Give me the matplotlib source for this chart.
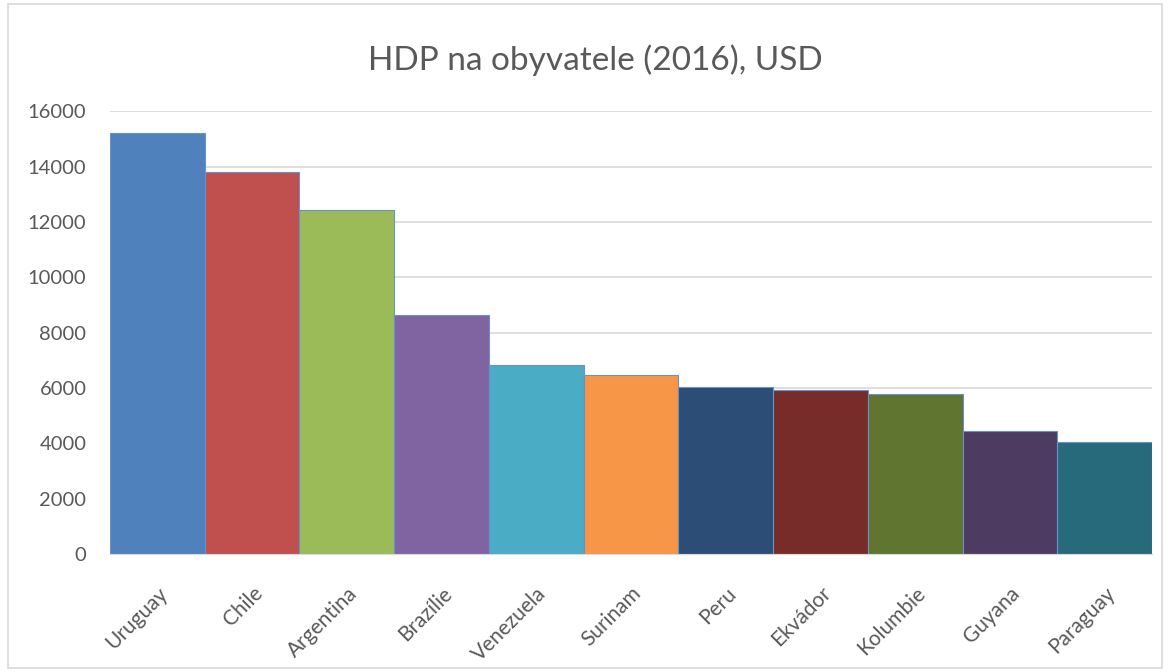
import matplotlib
matplotlib.use("Agg")
import matplotlib.pyplot as plt
import matplotlib.transforms as mtrans
from matplotlib.patches import Rectangle

countries = ["Uruguay", "Chile", "Argentina", "Brazílie", "Venezuela", "Surinam",
             "Peru", "Ekvádor", "Kolumbie", "Guyana", "Paraguay"]
gdp = [15230, 13800, 12440, 8630, 6820, 6460, 6030, 5940, 5780, 4440, 4050]
colors = ["#4F81BD", "#C0504D", "#9BBB59", "#8064A2", "#4BACC6", "#F79646",
          "#2C4D75", "#772C2A", "#5F7530", "#4D3B62", "#276A7C"]
yticks = [0, 2000, 4000, 6000, 8000, 10000, 12000, 14000, 16000]
title = "HDP na obyvatele (2016), USD"

plt.rcParams['font.family'] = ['Lato', 'DejaVu Sans']

fig = plt.figure(figsize=(11.7, 6.72), dpi=100)
ax = fig.add_axes([110/1170, 1-554/672, (1152-110)/1170, (554-111.5)/672])

x = list(range(len(countries)))
ax.bar(x, gdp, width=1.0, color=colors, edgecolor="#6A92C8", linewidth=0.8, zorder=3)
ax.set_xlim(-0.5, len(countries) - 0.5)
ax.set_ylim(0, 16000)
ax.set_yticks(yticks)
ax.set_yticklabels([str(v) for v in yticks], fontsize=14.5, color="#595959")
ax.set_xticks(x)
ax.set_xticklabels(countries, rotation=45, ha="right", rotation_mode="anchor",
                   fontsize=15, color="#595959")
offset = mtrans.ScaledTranslation(6/100, 0, fig.dpi_scale_trans)
for lbl in ax.get_xticklabels():
    lbl.set_transform(lbl.get_transform() + offset)
ax.tick_params(axis="y", length=0, pad=17)
ax.tick_params(axis="x", length=0, pad=21)
ax.grid(axis="y", color="#D9D9D9", linewidth=1.2, zorder=0)
for s in ["left", "right", "top"]:
    ax.spines[s].set_visible(False)
ax.spines["bottom"].set_color("#D9D9D9")
ax.spines["bottom"].set_zorder(4)

fig.text(595/1170, 1-60/672, title, ha="center", va="center", fontsize=24, color="#595959")

fig.patches.append(Rectangle((8/1170, 4/672), 1-16/1170, 1-8/672, transform=fig.transFigure,
                             fill=False, edgecolor="#D9D9D9", linewidth=1.2))

fig.savefig("out.png", dpi=100)
